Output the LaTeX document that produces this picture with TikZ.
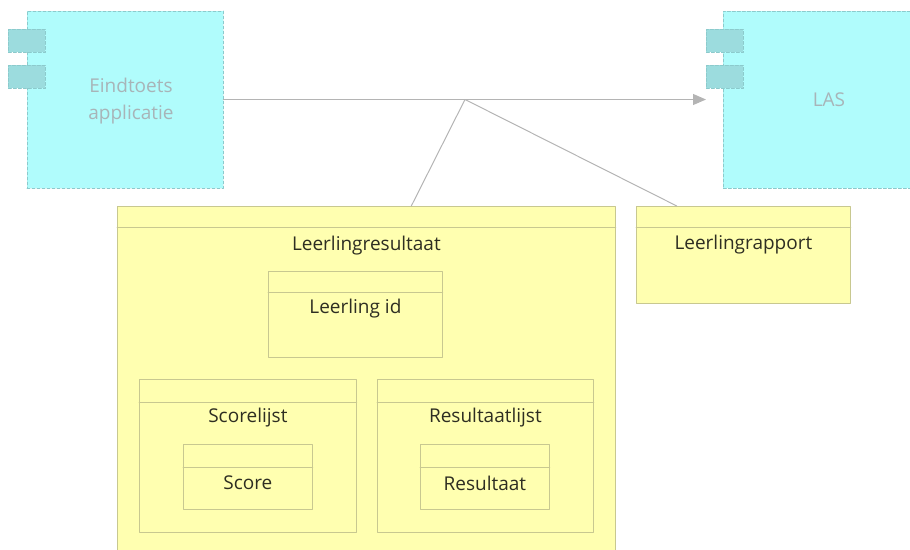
\documentclass[tikz,border=0pt]{standalone}
\usepackage{fontspec}
\setmainfont{Open Sans}
\usetikzlibrary{calc,arrows.meta}

\definecolor{appfill}{HTML}{B0FCFC}
\definecolor{appline}{HTML}{8CCACC}
\definecolor{portfill}{HTML}{9CDCDE}
\definecolor{apptext}{HTML}{A8B4B8}
\definecolor{objfill}{HTML}{FFFFB0}
\definecolor{objline}{HTML}{C8C890}
\definecolor{objtext}{HTML}{2E2E22}
\definecolor{conncol}{HTML}{B4B4B4}

\begin{document}
\begin{tikzpicture}[x=1pt, y=-1pt, font=\fontsize{19}{27}\selectfont, line join=round, line cap=round,
  >={Triangle[length=13pt,width=11pt]},
  app/.style={draw=appline, fill=appfill, dash pattern=on 3pt off 2pt, line width=0.8pt, inner sep=0pt},
  port/.style={draw=appline, fill=portfill, dash pattern=on 3pt off 2pt, line width=0.8pt, inner sep=0pt, anchor=north west, minimum width=37, minimum height=23},
  applabel/.style={text=apptext, align=center},
  obj/.style={draw=objline, fill=objfill, line width=0.8pt, inner sep=0pt, anchor=north west},
  objlabel/.style={text=objtext},
  hline/.style={draw=objline, line width=0.8pt},
  conn/.style={draw=conncol, line width=1pt}]
\useasboundingbox (0,0) rectangle (910,549);
\clip (0,0) rectangle (910,549);

% applicaties
\node[app, minimum width=196, minimum height=177] (eind) at (125,99.5) {};
\node[applabel] (eindlabel) at ([xshift=6pt,yshift=-2pt]eind.center) {Eindtoets\\applicatie};
\node[port] (eindp1) at (8,29) {};
\node[port] (eindp2) at (8,65) {};

\node[app, anchor=west, minimum width=300, minimum height=177] (las) at (723,99.5) {};
\node[applabel] (laslabel) at (829,100) {LAS};
\node[port] (lasp1) at (706,29) {};
\node[port] (lasp2) at (706,65) {};

% objecten
\node[obj, minimum width=498, minimum height=360] (lr) at (117,206) {};
\draw[hline] ([yshift=-21pt]lr.north west) -- ([yshift=-21pt]lr.north east);
\node[objlabel] (lrlabel) at ([yshift=-40pt]lr.north) {Leerlingresultaat};

\node[obj, minimum width=174, minimum height=86] (lid) at (268,271) {};
\draw[hline] ([yshift=-21pt]lid.north west) -- ([yshift=-21pt]lid.north east);
\node[objlabel] (lidlabel) at ([yshift=-38pt]lid.north) {Leerling id};

\node[obj, minimum width=217, minimum height=153] (sl) at (139,379) {};
\draw[hline] ([yshift=-23pt]sl.north west) -- ([yshift=-23pt]sl.north east);
\node[objlabel] (sllabel) at ([yshift=-39pt]sl.north) {Scorelijst};

\node[obj, minimum width=129, minimum height=65] (sc) at (183,444) {};
\draw[hline] ([yshift=-23pt]sc.north west) -- ([yshift=-23pt]sc.north east);
\node[objlabel] (sclabel) at ([yshift=-39pt]sc.north) {Score};

\node[obj, minimum width=216, minimum height=153] (rl) at (377,379) {};
\draw[hline] ([yshift=-23pt]rl.north west) -- ([yshift=-23pt]rl.north east);
\node[objlabel] (rllabel) at ([yshift=-39pt]rl.north) {Resultaatlijst};

\node[obj, minimum width=129, minimum height=65] (rs) at (420,444) {};
\draw[hline] ([yshift=-23pt]rs.north west) -- ([yshift=-23pt]rs.north east);
\node[objlabel] (rslabel) at ([yshift=-39pt]rs.north) {Resultaat};

\node[obj, minimum width=214, minimum height=97] (rapport) at (636,206) {};
\draw[hline] ([yshift=-21pt]rapport.north west) -- ([yshift=-21pt]rapport.north east);
\node[objlabel] (rapportlabel) at ([yshift=-39pt]rapport.north) {Leerlingrapport};

% stroom
\coordinate (j) at (465,99.5);
\draw[conn, ->] (eind.east) -- (lasp2.west |- eind.east);
\draw[conn] (j) -- ($(lr.north west)!0.59!(lr.north east)$);
\draw[conn] (j) -- ($(rapport.north west)!0.19!(rapport.north east)$);
\end{tikzpicture}
\end{document}
